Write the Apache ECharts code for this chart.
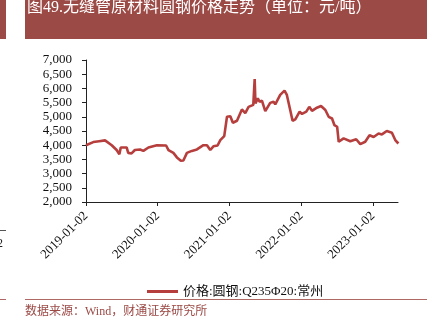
<!DOCTYPE html>
<html>
<head>
<meta charset="utf-8">
<script src="https://cdn.jsdelivr.net/npm/echarts@6/dist/echarts.min.js"></script>
<style>
  html, body { margin: 0; padding: 0; background: #ffffff; }
  #chart { width: 439px; height: 333px; }
</style>
</head>
<body>
<div id="chart"></div>
<script>
// Round-bar price (CNY/ton), Changzhou, Q235 Φ20
const dates = [
  '2019-01-02', '2019-02-08', '2019-03-10', '2019-04-09', '2019-04-17', '2019-05-13',
  '2019-06-07', '2019-06-21', '2019-06-28', '2019-07-28', '2019-08-05', '2019-08-22',
  '2019-09-08', '2019-10-04', '2019-10-21', '2019-11-16', '2019-12-29', '2020-02-14',
  '2020-02-26', '2020-03-22', '2020-04-09', '2020-04-29', '2020-05-12', '2020-05-30',
  '2020-06-24', '2020-07-20', '2020-08-22', '2020-09-09', '2020-09-26', '2020-10-12',
  '2020-11-02', '2020-11-16', '2020-12-06', '2020-12-20', '2020-12-28', '2021-01-06',
  '2021-01-19', '2021-02-09', '2021-03-06', '2021-03-23', '2021-04-09', '2021-05-03',
  '2021-05-10', '2021-05-14', '2021-05-26', '2021-06-04', '2021-06-16', '2021-07-03',
  '2021-07-28', '2021-08-14', '2021-08-23', '2021-09-17', '2021-10-09', '2021-10-21',
  '2021-11-07', '2021-11-19', '2021-12-03', '2021-12-25', '2022-01-06', '2022-01-28',
  '2022-02-12', '2022-02-26', '2022-03-23', '2022-04-13', '2022-05-05', '2022-05-22',
  '2022-06-08', '2022-06-20', '2022-07-04', '2022-07-12', '2022-08-06', '2022-09-09',
  '2022-10-09', '2022-10-30', '2022-11-24', '2022-12-16', '2023-01-06', '2023-01-31',
  '2023-02-17', '2023-03-14', '2023-04-09', '2023-04-26', '2023-05-12'
];
const prices = [
  4000, 4110, 4140, 4170, 4160, 4000,
  3830, 3680, 3920, 3920, 3730, 3710,
  3830, 3850, 3800, 3920, 4000, 3990,
  3830, 3730, 3570, 3450, 3460, 3730,
  3800, 3850, 4000, 4000, 3830, 3960,
  3990, 4180, 4320, 5000, 4940, 5020,
  4790, 4860, 5260, 5130, 5350, 5420,
  6330, 5470, 5650, 5530, 5570, 5200,
  5490, 5530, 5440, 5770, 5920, 5770,
  5240, 4860, 4910, 5180, 5100, 5180,
  5350, 5210, 5320, 5380, 5240, 5000,
  4940, 4710, 4650, 4120, 4240, 4140,
  4210, 4040, 4120, 4350, 4290, 4410,
  4380, 4500, 4440, 4180, 4060
];
const xTickLabels = ['2019-01-02', '2020-01-02', '2021-01-02', '2022-01-02', '2023-01-02'];
const xAxisEnd = '2023-05-10';
const yTicks = { min: 2000, max: 7000, step: 500 };

const seriesName = '价格:圆钢:Q235Φ20:常州';
const titleText = '图49.无缝管原材料圆钢价格走势（单位：元/吨）';
const sourceText = '数据来源：Wind，财通证券研究所';

// dates → day numbers (UTC), so the x axis is a plain linear scale
const DAY = 86400000;
const toDay = s => {
  const [y, m, d] = s.split('-').map(Number);
  return Date.UTC(y, m - 1, d) / DAY;
};
const dayToLabel = v => {
  const dt = new Date(Math.round(v) * DAY);
  const p = n => String(n).padStart(2, '0');
  return dt.getUTCFullYear() + '-' + p(dt.getUTCMonth() + 1) + '-' + p(dt.getUTCDate());
};
const tickDays = xTickLabels.map(toDay);
const seriesData = dates.map((d, i) => [toDay(d), prices[i]]);

const serif = "'Liberation Serif', 'Times New Roman', 'Noto Sans CJK SC', serif";
const barColor = '#9b4a46';
const lineColor = '#b63f3e';

const chart = echarts.init(document.getElementById('chart'), null, { renderer: 'canvas' });
chart.setOption({
  backgroundColor: '#ffffff',
  animation: false,
  grid: { left: 86, right: 41, top: 60, bottom: 131, containLabel: false },
  xAxis: {
    type: 'value',
    min: tickDays[0],
    max: toDay(xAxisEnd),
    axisLine: { show: true, lineStyle: { color: '#222', width: 1 } },
    axisTick: { show: true, length: 4, lineStyle: { color: '#222' }, customValues: tickDays },
    splitLine: { show: false },
    axisLabel: {
      customValues: tickDays,
      rotate: 45,
      margin: 12,
      color: '#111',
      fontFamily: serif,
      fontSize: 13,
      formatter: v => dayToLabel(v)
    }
  },
  yAxis: {
    type: 'value',
    min: yTicks.min,
    max: yTicks.max,
    interval: yTicks.step,
    axisLine: { show: true, lineStyle: { color: '#222', width: 1 } },
    axisTick: { show: true, length: 4, lineStyle: { color: '#222' } },
    splitLine: { show: false },
    axisLabel: {
      margin: 14,
      color: '#111',
      fontFamily: serif,
      fontSize: 13,
      formatter: v => v.toLocaleString('en-US')
    }
  },
  legend: {
    left: 142,
    top: 280,
    icon: 'rect',
    itemWidth: 31,
    itemHeight: 3,
    itemGap: 10,
    textStyle: { fontFamily: serif, fontSize: 13, color: '#111' },
    data: [seriesName]
  },
  series: [{
    name: seriesName,
    type: 'line',
    data: seriesData,
    showSymbol: false,
    smooth: false,
    lineStyle: { color: lineColor, width: 2.6 },
    itemStyle: { color: lineColor }
  }],
  graphic: [
    { type: 'rect', shape: { x: 25, y: 0, width: 402, height: 39 }, style: { fill: barColor }, silent: true },
    { type: 'text', x: 27, y: 0, style: { text: titleText, fill: '#ffffff', font: "16px " + serif }, silent: true },
    { type: 'rect', shape: { x: 0, y: 0, width: 6, height: 39 }, style: { fill: barColor }, silent: true },
    { type: 'line', shape: { x1: 25, y1: 299.5, x2: 427, y2: 299.5 }, style: { stroke: '#b06864', lineWidth: 1 }, silent: true },
    { type: 'line', shape: { x1: 0, y1: 299.5, x2: 6, y2: 299.5 }, style: { stroke: '#b06864', lineWidth: 1 }, silent: true },
    { type: 'line', shape: { x1: 0, y1: 230.5, x2: 6, y2: 230.5 }, style: { stroke: '#555', lineWidth: 1 }, silent: true },
    { type: 'text', x: -3, y: 238, style: { text: '2', fill: '#222', font: "12px " + serif }, silent: true },
    { type: 'text', x: 25, y: 306, style: { text: sourceText, fill: barColor, font: "12px " + serif }, silent: true }
  ]
});
</script>
</body>
</html>
